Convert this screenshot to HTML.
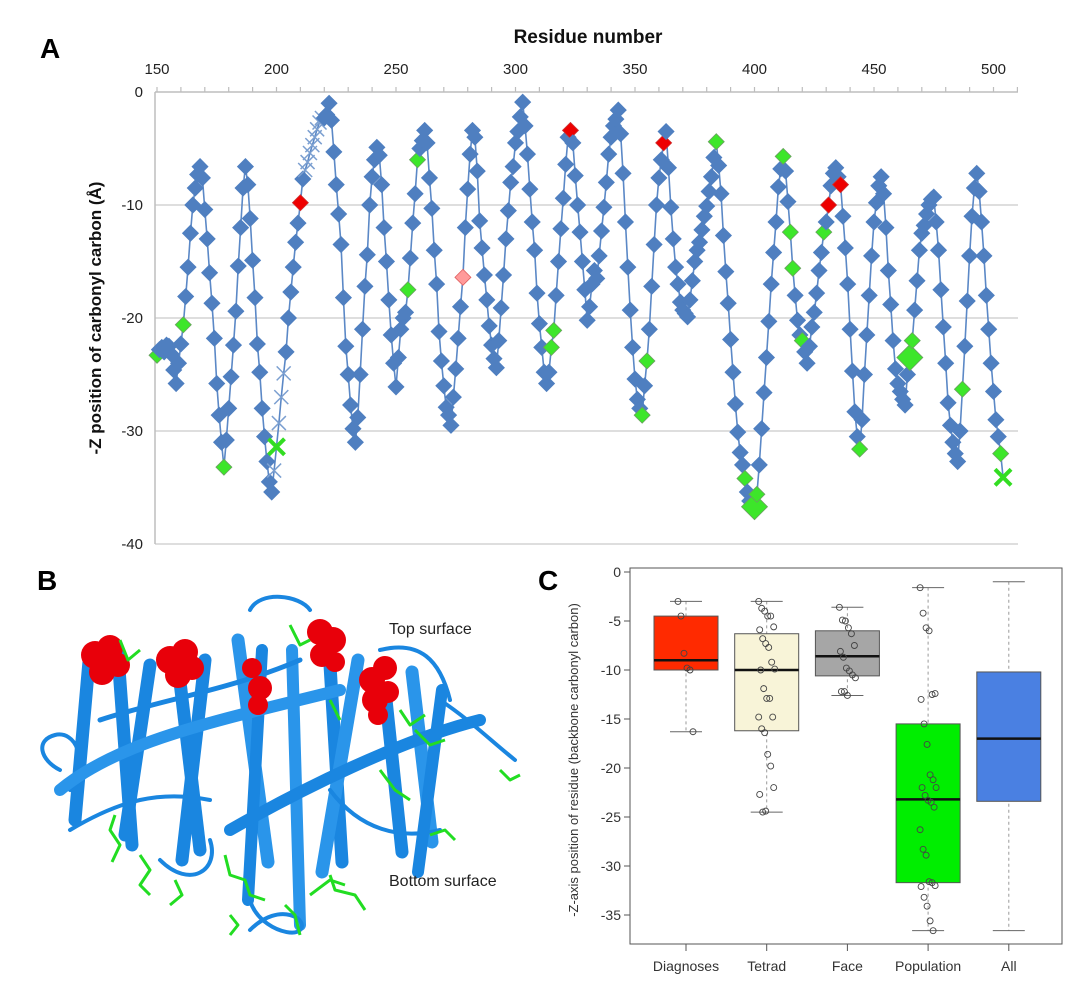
<!DOCTYPE html>
<html><head><meta charset="utf-8"><style>
html,body{margin:0;padding:0;background:#fff;}
svg{display:block;font-family:"Liberation Sans",Arial,sans-serif;}
</style></head><body>
<svg id="fig" width="1080" height="985" viewBox="0 0 1080 985" xmlns="http://www.w3.org/2000/svg">
  <text x="40" y="58" font-size="28" font-weight="bold">A</text>
  <text x="37" y="590" font-size="28" font-weight="bold">B</text>
  <text x="538" y="590" font-size="28" font-weight="bold">C</text>
  <g id="panelA"></g>
  <g id="panelB">
    <g fill="none" stroke="#1a86e0" stroke-linecap="round" stroke-linejoin="round">
      <path d="M60,770 C40,760 35,740 55,735 C75,730 90,760 70,790" stroke-width="4"/>
      <path d="M90,650 L75,820" stroke-width="13"/>
      <path d="M118,655 L132,845" stroke-width="13"/>
      <path d="M150,665 L125,835" stroke-width="13"/>
      <path d="M178,665 L200,850" stroke-width="13"/>
      <path d="M205,660 L182,860" stroke-width="13"/>
      <path d="M238,640 L268,862" stroke-width="13" stroke="#2a95ea"/>
      <path d="M262,650 L248,900" stroke-width="12"/>
      <path d="M292,650 L300,925" stroke-width="12" stroke="#2a95ea"/>
      <path d="M330,665 L342,862" stroke-width="13"/>
      <path d="M358,660 L322,872" stroke-width="13" stroke="#2a95ea"/>
      <path d="M385,690 L402,852" stroke-width="13"/>
      <path d="M412,672 L432,842" stroke-width="13" stroke="#2a95ea"/>
      <path d="M442,690 L418,872" stroke-width="12"/>
      <path d="M60,790 C120,740 220,720 340,690" stroke-width="12" stroke="#2a95ea"/>
      <path d="M230,830 C300,790 400,740 480,720" stroke-width="12"/>
      <path d="M100,720 C160,700 230,690 300,660" stroke-width="5"/>
      <path d="M70,830 C120,800 160,790 210,800" stroke-width="4"/>
      <path d="M160,860 C190,890 220,870 210,840" stroke-width="4"/>
      <path d="M250,880 C240,920 290,940 300,930 C310,920 280,900 250,930" stroke-width="4"/>
      <path d="M250,610 C260,590 300,595 310,610" stroke-width="4"/>
      <path d="M440,700 C470,720 490,740 515,760" stroke-width="4"/>
      <path d="M330,790 C360,830 400,840 440,830" stroke-width="4"/>
      <path d="M380,650 C420,640 440,660 450,700" stroke-width="4"/>
    </g>
    <g fill="#e8000a">
      <circle cx="95" cy="655" r="14"/><circle cx="110" cy="648" r="13"/><circle cx="102" cy="672" r="13"/><circle cx="118" cy="665" r="12"/>
      <circle cx="170" cy="660" r="14"/><circle cx="185" cy="652" r="13"/><circle cx="178" cy="675" r="13"/><circle cx="192" cy="668" r="12"/>
      <circle cx="252" cy="668" r="10"/><circle cx="260" cy="688" r="12"/><circle cx="258" cy="705" r="10"/>
      <circle cx="320" cy="632" r="13"/><circle cx="333" cy="640" r="13"/><circle cx="322" cy="655" r="12"/><circle cx="335" cy="662" r="10"/>
      <circle cx="372" cy="680" r="13"/><circle cx="385" cy="668" r="12"/><circle cx="375" cy="700" r="13"/><circle cx="388" cy="692" r="11"/><circle cx="378" cy="715" r="10"/>
    </g>
    <g fill="none" stroke="#22dd22" stroke-width="3" stroke-linejoin="round">
      <path d="M115,815 L110,830 L120,845 L112,862"/>
      <path d="M140,855 L150,870 L140,885 L150,895"/>
      <path d="M175,880 L182,895 L170,905"/>
      <path d="M225,855 L230,875 L245,880 L250,895 L265,900"/>
      <path d="M230,915 L238,925 L230,935"/>
      <path d="M285,905 L295,915 L300,935"/>
      <path d="M310,895 L330,880 L345,885"/>
      <path d="M330,875 L335,890 L355,895 L365,910"/>
      <path d="M380,770 L395,790 L410,800"/>
      <path d="M430,835 L445,830 L455,840"/>
      <path d="M500,770 L510,780 L520,775"/>
      <path d="M415,730 L430,745 L445,740"/>
      <path d="M120,640 L128,660 L140,650"/>
      <path d="M290,625 L300,645 L310,640"/>
      <path d="M330,700 L340,720"/>
      <path d="M400,710 L410,725 L425,715"/>
    </g>
    <text x="389" y="634" font-size="16" fill="#222">Top surface</text>
    <text x="389" y="886" font-size="16" fill="#222">Bottom surface</text>
  </g>
  <g id="panelC"></g>
</svg>
<script>
// ===== Panel A data =====
const startResidue = 150;
const zValues = [
-23.3,-22.8,-22.6,-23.0,-22.4,-22.5,-23.2,-24.6,-25.8,-24.0,-22.3,
-20.6,-18.1,-15.5,-12.5,-10.0,-8.5,-7.3,-6.6,
-7.6,-10.4,-13.0,-16.0,-18.7,-21.8,-25.8,-28.6,-31.0,-33.2,
-30.8,-28.0,-25.2,-22.4,-19.4,-15.4,-12.0,-8.5,-6.6,
-8.2,-11.2,-14.9,-18.2,-22.3,-24.8,-28.0,-30.5,-32.7,-34.5,-35.4,
-33.5,-31.4,-29.3,-27.0,-24.9,
-23.0,-20.0,-17.7,-15.5,-13.3,-11.6,-9.8,-7.7,
-6.9,-6.2,-5.4,-4.7,-4.0,-3.3,-2.7,-2.3,
-2.3,-2.0,-1.0,
-2.5,-5.3,-8.2,-10.8,-13.5,-18.2,-22.5,-25.0,-27.7,-29.8,-31.0,
-28.8,-25.0,-21.0,-17.2,-14.4,-10.0,-7.5,-6.0,-4.9,
-5.6,-8.2,-12.0,-15.0,-18.4,-21.5,-24.0,-26.1,
-23.5,-21.0,-20.0,-19.5,-17.5,-14.7,-11.6,-9.0,-6.0,-5.0,-4.3,-3.4,
-4.5,-7.6,-10.3,-14.0,-17.0,-21.2,-23.8,-26.0,-27.9,-28.6,-29.5,
-27.0,-24.5,-21.8,-19.0,-16.4,-12.0,-8.6,-5.5,-3.4,
-4.0,-7.0,-11.4,-13.8,-16.2,-18.4,-20.7,-22.4,-23.6,-24.4,
-22.0,-19.1,-16.2,-13.0,-10.5,-8.0,-6.6,-4.5,-3.5,-2.2,-0.9,
-3.0,-5.5,-8.6,-11.5,-14.0,-17.8,-20.5,-22.6,-24.8,-25.8,
-24.8,-22.6,-21.1,-18.0,-15.0,-12.1,-9.4,-6.4,-4.0,-3.4,
-4.5,-7.4,-10.0,-12.4,-15.0,-17.5,-20.2,
-19.0,-17.0,-15.8,-16.5,
-14.5,-12.3,-10.2,-8.0,-5.5,-4.0,-3.0,-2.4,-1.6,
-3.7,-7.2,-11.5,-15.5,-19.3,-22.6,-25.4,-27.2,-28.0,-28.6,
-26.0,-23.8,-21.0,-17.2,-13.5,-10.0,-7.6,-6.0,-4.5,-3.5,
-6.7,-10.2,-13.0,-15.5,-17.0,-18.6,-19.3,-19.6,-19.9,
-18.4,-16.7,-15.0,-14.0,-13.3,-12.2,-11.0,-10.1,-8.8,-7.5,-5.8,-4.4,
-6.5,-9.0,-12.7,-15.9,-18.7,-21.9,-24.8,-27.6,-30.1,-31.9,-33.0,-34.2,-35.4,-36.2,-36.5,-36.7,
-35.6,-33.0,-29.8,-26.6,-23.5,-20.3,-17.0,-14.2,-11.5,-8.4,-6.8,-5.7,
-7.0,-9.7,-12.4,-15.6,-18.0,-20.2,-21.5,-22.0,-23.0,-24.0,
-22.5,-20.8,-19.5,-17.8,-15.8,-14.2,-12.4,-11.5,-10.0,-8.3,-7.2,-6.7,
-7.5,-8.2,-11.0,-13.8,-17.0,-21.0,-24.7,-28.3,-30.5,-31.6,
-29.0,-25.0,-21.5,-18.0,-14.5,-11.5,-9.8,-8.3,-7.5,
-9.0,-12.0,-15.8,-18.8,-22.0,-24.5,-25.8,-26.5,-27.2,-27.7,
-25.0,-23.5,-22.0,-19.3,-16.7,-14.0,-12.5,-11.8,-10.8,-10.0,-9.5,-9.3,
-11.5,-14.0,-17.5,-20.8,-24.0,-27.5,-29.5,-31.0,-32.0,-32.7,
-30.0,-26.3,-22.5,-18.5,-14.5,-11.0,-8.5,-7.2,
-8.8,-11.5,-14.5,-18.0,-21.0,-24.0,-26.5,-29.0,-30.5,-32.0,-34.1
];
const greenResidues = [150,161,178,255,259,315,316,353,355,384,396,401,412,415,416,420,429,444,466,487,503];
const bigGreenResidues = [400,465];
const redResidues = [210,323,362,431,436];
const pinkResidues = [278];
const crossResidues = [199,201,202,203,212,213,214,215,216,217,218,219];
const greenCrossResidues = [200,504];
const xTickLabels = [150,200,250,300,350,400,450,500];
const yTickLabels = [0,-10,-20,-30,-40];

// ===== Panel C data =====
const boxCategories = ['Diagnoses','Tetrad','Face','Population','All'];
const boxQ1 = [-4.5,-6.3,-6.0,-15.5,-10.2];
const boxMedian = [-9.0,-10.0,-8.6,-23.2,-17.0];
const boxQ3 = [-10.0,-16.2,-10.6,-31.7,-23.4];
const whiskerTop = [-3.0,-3.0,-3.6,-1.6,-1.0];
const whiskerBottom = [-16.3,-24.5,-12.6,-36.6,-36.6];
const boxColors = ['#ff2a00','#f8f4d8','#a6a6a6','#00ee00','#4a80e2'];
const diagnosesPoints = [-3.0,-4.5,-8.3,-9.8,-10.0,-16.3];
const tetradPoints = [-3.0,-3.7,-4.0,-4.5,-4.5,-5.6,-5.9,-6.8,-7.3,-7.7,-9.2,-9.9,-10.0,-11.9,-12.9,-12.9,-14.8,-14.8,-16.0,-16.4,-18.6,-19.8,-22.0,-22.7,-24.5,-24.4];
const facePoints = [-3.6,-4.9,-5.0,-5.7,-6.3,-7.5,-8.1,-8.7,-9.8,-10.1,-10.5,-10.8,-12.2,-12.2,-12.6];
const populationPoints = [-1.6,-4.2,-5.7,-6.0,-12.5,-12.4,-13.0,-15.5,-17.6,-20.7,-21.2,-22.0,-22.0,-22.8,-23.3,-23.5,-24.0,-26.3,-28.3,-28.9,-31.6,-31.7,-32.0,-32.1,-33.2,-34.1,-35.6,-36.6];
const yTicksC = [0,-5,-10,-15,-20,-25,-30,-35];

const NS = 'http://www.w3.org/2000/svg';
function mk(tag, attrs, parent){
  const e = document.createElementNS(NS, tag);
  for (const k in attrs) e.setAttribute(k, attrs[k]);
  parent.appendChild(e);
  return e;
}

// ===== Panel A =====
(function(){
  const g = document.getElementById('panelA');
  const L = 155, R = 1018, T = 92, B = 544;
  const xA = r => 157 + (r - 150) * 2.39;
  const yA = z => T + (-z) * (B - T) / 40;
  yTickLabels.forEach(v => {
    if (v !== 0) {
      const gl = mk('line', {x1:L, x2:R, y1:yA(v), y2:yA(v), stroke:'#d4d4d4', 'stroke-width':1.5}, g);
      
      
    }
    const t = mk('text', {x:L-12, y:yA(v)+5, 'text-anchor':'end', 'font-size':15, fill:'#222'}, g);
    t.textContent = v;
    
    
  });
  const ax = mk('line', {x1:L, x2:L, y1:T, y2:B, stroke:'#bdbdbd', 'stroke-width':1.5}, g);
  
  
  const axt = mk('line', {x1:L, x2:R, y1:T, y2:T, stroke:'#bdbdbd', 'stroke-width':1.5}, g);
  
  
  for (let r = 150; r <= 510; r += 10) {
    mk('line', {x1:xA(r), x2:xA(r), y1:T-5, y2:T, stroke:'#bdbdbd', 'stroke-width':1.2}, g);
  }
  xTickLabels.forEach(v => {
    const t = mk('text', {x:xA(v), y:74, 'text-anchor':'middle', 'font-size':15, fill:'#222'}, g);
    t.textContent = v;
    
    
  });
  const xt = mk('text', {x:588, y:43, 'text-anchor':'middle', 'font-size':19, 'font-weight':'bold', fill:'#111'}, g);
  xt.textContent = 'Residue number';
  
  
  const yt = mk('text', {x:0, y:0, 'text-anchor':'middle', 'font-size':17, 'font-weight':'bold', fill:'#111', transform:'translate(101,318) rotate(-90)'}, g);
  yt.textContent = '-Z position of carbonyl carbon  (\u00C5)';
  
  

  const pts = zValues.map((z, i) => [xA(startResidue + i), yA(z)]);
  const line = mk('polyline', {points: pts.map(p => p.join(',')).join(' '), fill:'none', stroke:'#5b88c6', 'stroke-width':1.6}, g);
  
  

  zValues.forEach((z, i) => {
    const r = startResidue + i;
    const x = xA(r), y = yA(z);
    if (crossResidues.includes(r) || greenCrossResidues.includes(r)) {
      const green = greenCrossResidues.includes(r);
      const s = green ? 8 : 7;
      const c = green ? '#33dd22' : '#7b9fd0';
      const p = mk('path', {d:`M${x-s},${y-s}L${x+s},${y+s}M${x-s},${y+s}L${x+s},${y-s}`, stroke:c, 'stroke-width': green ? 4 : 1.5, fill:'none'}, g);
      
      
      return;
    }
    let fill = '#4f7fc0', s = 8, stroke = '#4f7fc0';
    if (greenResidues.includes(r)) { fill = '#3de62a'; stroke = '#6aa060'; }
    if (bigGreenResidues.includes(r)) { fill = '#3de62a'; stroke = '#6aa060'; s = 13; }
    if (redResidues.includes(r)) { fill = '#ee0000'; stroke = '#cc3333'; }
    if (pinkResidues.includes(r)) { fill = '#ff9a9a'; stroke = '#e06060'; }
    const d = mk('path', {d:`M${x},${y-s}L${x+s},${y}L${x},${y+s}L${x-s},${y}Z`, fill:fill, stroke:stroke, 'stroke-width':0.8}, g);
    
    
  });
})();

// ===== Panel C =====
(function(){
  const g = document.getElementById('panelC');
  const L = 630, R = 1062, T = 568, B = 944;
  const yC = v => 572 + (-v) * 9.8;
  const xC = i => 686 + i * 80.7;
  const frame = mk('rect', {x:L, y:T, width:R-L, height:B-T, fill:'none', stroke:'#555', 'stroke-width':1}, g);
  
  
  yTicksC.forEach(v => {
    mk('line', {x1:L-6, x2:L, y1:yC(v), y2:yC(v), stroke:'#555', 'stroke-width':1}, g);
    const t = mk('text', {x:L-9, y:yC(v)+5, 'text-anchor':'end', 'font-size':14, fill:'#333'}, g);
    t.textContent = v;
    
    
  });
  const yt = mk('text', {x:0, y:0, 'text-anchor':'middle', 'font-size':13, fill:'#333', transform:'translate(578,760) rotate(-90)'}, g);
  yt.textContent = '-Z-axis position of residue (backbone carbonyl carbon)';
  
  
  const pointSets = [diagnosesPoints, tetradPoints, facePoints, populationPoints, []];
  boxCategories.forEach((c, i) => {
    const x = xC(i), hw = 32;
    mk('line', {x1:x, x2:x, y1:B, y2:B+7, stroke:'#555'}, g);
    const t = mk('text', {x:x, y:971, 'text-anchor':'middle', 'font-size':14, fill:'#333'}, g);
    t.textContent = c;
    
    
    mk('line', {x1:x, x2:x, y1:yC(whiskerTop[i]), y2:yC(whiskerBottom[i]), stroke:'#999', 'stroke-dasharray':'3,3'}, g);
    mk('line', {x1:x-16, x2:x+16, y1:yC(whiskerTop[i]), y2:yC(whiskerTop[i]), stroke:'#666'}, g);
    mk('line', {x1:x-16, x2:x+16, y1:yC(whiskerBottom[i]), y2:yC(whiskerBottom[i]), stroke:'#666'}, g);
    const box = mk('rect', {x:x-hw, y:yC(boxQ1[i]), width:hw*2, height:yC(boxQ3[i])-yC(boxQ1[i]), fill:boxColors[i], stroke:'#555', 'stroke-width':1}, g);
    
    
    const med = mk('line', {x1:x-hw, x2:x+hw, y1:yC(boxMedian[i]), y2:yC(boxMedian[i]), stroke:'#111', 'stroke-width':2.5}, g);
    
    
    pointSets[i].forEach((v, j) => {
      const off = ((j * 37) % 17) - 8;
      const p = mk('circle', {cx:x+off, cy:yC(v), r:3, fill:'none', stroke:'#444', 'stroke-width':0.9}, g);
      
      
    });
  });
})();
</script>
</body></html>
